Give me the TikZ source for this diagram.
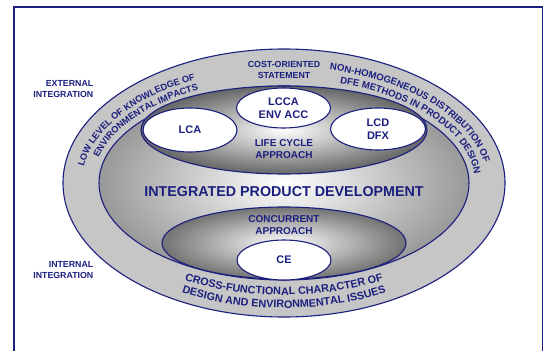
\documentclass[tikz,border=0pt]{standalone}
\usepackage{fontspec}
\setmainfont{Liberation Sans}
\usetikzlibrary{shapes.geometric,decorations.text}
\definecolor{ipdblue}{HTML}{1B1F7E}
\definecolor{ringgray}{HTML}{C6C6C6}
\newcommand\ringfont{\bfseries\fontsize{9.2}{9.2}\selectfont}
\newcommand\rightringfont{\bfseries\fontsize{9.6}{9.6}\selectfont}
\newcommand\lowringfont{\bfseries\fontsize{10.8}{10.8}\selectfont}

\begin{document}
\begin{tikzpicture}[x=1pt,y=1pt,
  oval/.style={ellipse,draw=ipdblue,line width=1.1pt,inner sep=0pt},
  whiteoval/.style={oval,fill=white,text=ipdblue,align=center,
    font=\bfseries\fontsize{11}{13.5}\selectfont},
  tagtext/.style={text=ipdblue,inner sep=0pt,align=center,
    font=\bfseries\fontsize{8.8}{11}\selectfont},
  areatext/.style={text=ipdblue,inner sep=0pt,align=center,
    font=\bfseries\fontsize{10}{12}\selectfont},
  ringtext/.style={decorate,decoration={text along path,text color=ipdblue}}]
  \useasboundingbox (0,0) rectangle (544,-351);
  \draw[ipdblue,line width=1.5pt] (14,-351) |- (542.5,-7) -- (542.5,-351);

  \node[oval,fill=ringgray,minimum width=442pt,minimum height=268pt] (outer) at (284,-183) {};
  \node[oval,shading=radial,inner color=white,outer color=black!40,
    minimum width=370pt,minimum height=194pt] (ipd) at (284,-183) {};
  \node[oval,shading=radial,inner color=white,outer color=black!60,
    minimum width=286pt,minimum height=88pt] (lifecycle) at (284,-130) {};
  \node[oval,shading=radial,inner color=white,outer color=black!55,
    minimum width=244pt,minimum height=72pt] (concurrent) at (284,-243) {};

  \node[whiteoval,minimum width=94pt,minimum height=44pt] (lca) at (190,-130) {LCA};
  \node[whiteoval,minimum width=94pt,minimum height=40pt] (lcca) at (283.5,-108) {LCCA\\ENV ACC};
  \node[whiteoval,minimum width=95pt,minimum height=42pt] (lcd) at (378,-129) {LCD\\DFX};
  \node[whiteoval,minimum width=94pt,minimum height=40pt] (ce) at (284,-260) {CE};

  \node[areatext] (lcapproach) at (284,-149) {LIFE CYCLE\\APPROACH};
  \node[areatext] (ccapproach) at (284,-225.5) {CONCURRENT\\APPROACH};
  \node[areatext,font=\bfseries\fontsize{14.3}{16}\selectfont] (ipdtext) at (284,-192)
    {INTEGRATED PRODUCT DEVELOPMENT};

  \node[tagtext] (cost) at (284,-69.5) {COST-ORIENTED\\STATEMENT};
  \node[tagtext,anchor=east,align=right] (external) at (93.5,-89.5) {EXTERNAL\\INTEGRATION};
  \node[tagtext,anchor=east,align=right] (internal) at (93.5,-270.5) {INTERNAL\\INTEGRATION};

  \path[ringtext,decoration={text={|\ringfont|LOW LEVEL OF KNOWLEDGE OF}}]
    (outer.center) ++(172:202 and 115) arc[start angle=172,end angle=90,x radius=202,y radius=115];
  \path[ringtext,decoration={text={|\ringfont|ENVIRONMENTAL IMPACTS}}]
    (outer.center) ++(166:191 and 104) arc[start angle=166,end angle=90,x radius=191,y radius=104];
  \path[ringtext,decoration={text={|\rightringfont|NON-HOMOGENEOUS DISTRIBUTION OF}}]
    (outer.center) ++(77:203 and 116) arc[start angle=77,end angle=-12,x radius=203,y radius=116];
  \path[ringtext,decoration={text={|\rightringfont|DFE METHODS IN PRODUCT DESIGN}}]
    (outer.center) ++(73:191 and 104) arc[start angle=73,end angle=-12,x radius=191,y radius=104];
  \path[ringtext,decoration={text={|\lowringfont|CROSS-FUNCTIONAL CHARACTER OF},text align=center}]
    (outer.center) ++(215:199 and 112) arc[start angle=215,end angle=325,x radius=199,y radius=112];
  \path[ringtext,decoration={text={|\lowringfont|DESIGN AND ENVIRONMENTAL ISSUES},text align=center}]
    (outer.center) ++(215:211 and 125) arc[start angle=215,end angle=325,x radius=211,y radius=125];
\end{tikzpicture}
\end{document}
